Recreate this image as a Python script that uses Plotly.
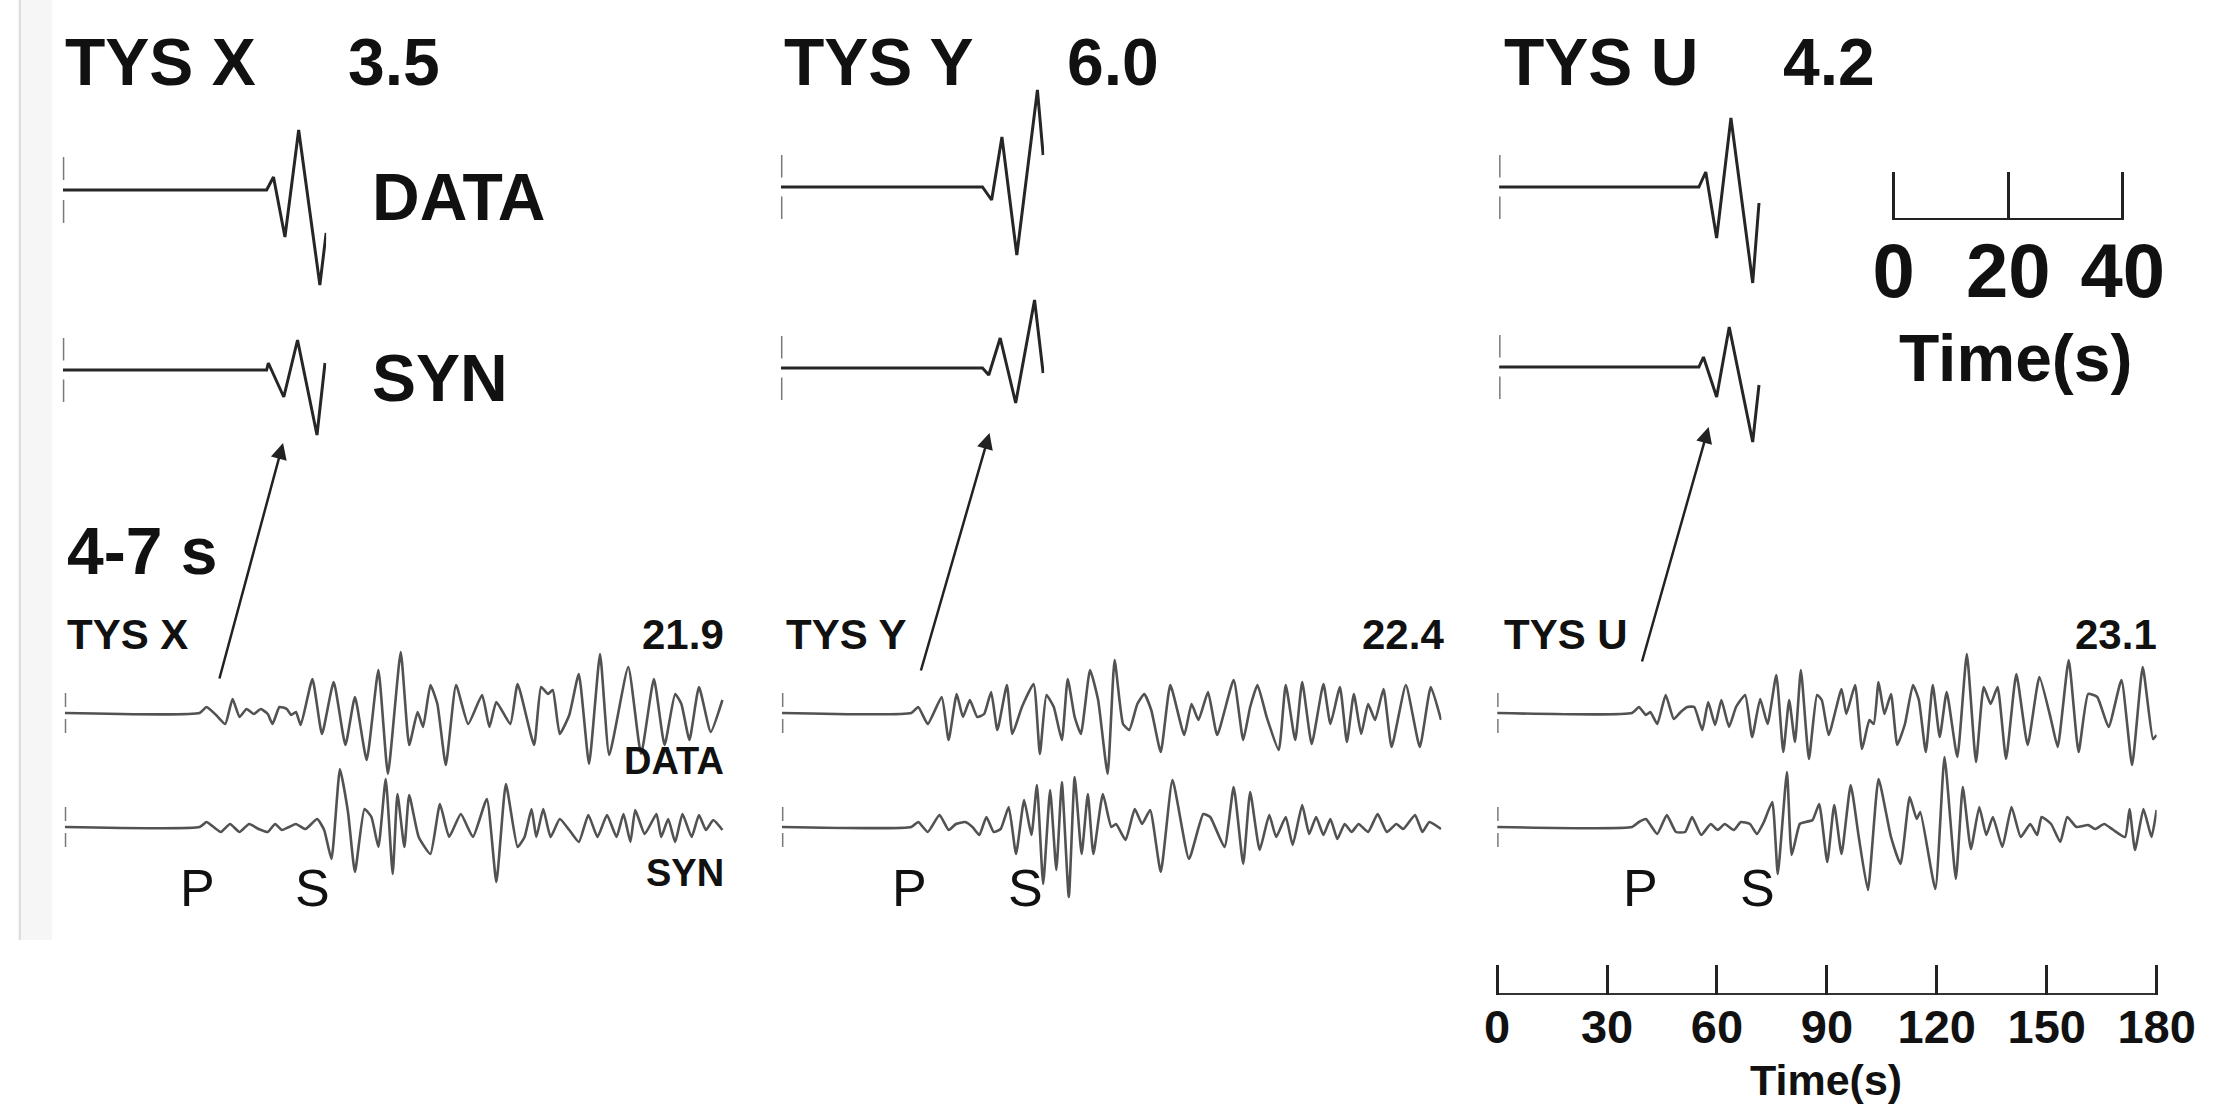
import plotly.graph_objects as go

W, H = 2227, 1106
FONT = "Liberation Sans, Arial, Helvetica, sans-serif"
NARROW = "Liberation Sans Narrow, Arial Narrow, Liberation Sans, Arial, sans-serif"

# ---------------- data ----------------
tx_data_t = [0, 35.6, 36.8, 38.8, 41.2, 44.9, 46.0]
tx_data_a = [0, 0, 13, -47, 60, -95, -43]
tx_syn_t = [0, 35.6, 35.9, 38.6, 41.0, 44.4, 45.8]
tx_syn_a = [0, 0, 7, -27, 30, -65, 7]
ty_data_t = [0, 35.2, 36.8, 38.6, 41.2, 44.8, 45.8]
ty_data_a = [0, 0, -13, 50, -68, 97, 32]
ty_syn_t = [0, 35.2, 36.3, 38.3, 41.0, 44.3, 45.8]
ty_syn_a = [0, 0, -7, 30, -35, 68, -5]
tu_data_t = [0, 34.9, 36.1, 38.0, 40.5, 44.3, 45.4]
tu_data_a = [0, 0, 15, -51, 69, -96, -16]
tu_syn_t = [0, 34.9, 35.7, 38.0, 40.2, 44.3, 45.4]
tu_syn_a = [0, 0, 10, -30, 40, -75, -18]

bx_data_t = [0, 36.8, 38.7, 41.3, 43.8, 45.8, 47.7, 49.6, 51.6, 53.5, 55.4, 56.7, 58.6, 60.6, 61.8, 63.1,
             64.4, 67.6, 70.2, 73.4, 76.6, 79.2, 82.4, 85.6, 88.2, 91.7, 94.0, 96.3, 97.8, 99.8, 101.7,
             104.0, 106.8, 110.1, 113.9, 115.9, 117.8, 121.6, 123.6, 128.1, 130.0, 131.9, 133.2, 135.1,
             137.7, 140.3, 143.1, 146.1, 148.6, 153.8, 157.3, 160.8, 163.7, 166.6, 168.3, 170.5, 173.1,
             176.3, 179.5]
bx_data_a = [0, 0, 6, -2, -11, 14, -4, 4, -1, 4, -1, -11, 6, 4, -2, 1, -12, 34, -21, 31, -32, 16, -47, 43,
             -61, 61, -32, 1, -14, 28, 9, -52, 28, -11, 18, -14, 11, -11, 29, -32, 26, 19, 23, -21, -2, 39,
             -51, 59, -42, 46, -41, 34, -32, 19, 9, -27, 26, -19, 13]
bx_syn_t = [0, 36.8, 38.7, 40.6, 42.6, 45.1, 47.7, 50.3, 52.9, 55.4, 57.4, 59.3, 61.2, 63.1, 65.7, 68.9,
            70.8, 72.8, 75.1, 77.3, 79.2, 81.8, 83.7, 85.6, 87.6, 89.5, 90.8, 92.7, 94.0, 96.6, 99.8, 102.4,
            104.9, 108.1, 111.4, 115.2, 117.8, 120.4, 123.6, 125.5, 127.4, 128.7, 130.6, 132.6, 135.1,
            137.7, 140.3, 142.9, 145.4, 148.0, 150.6, 152.5, 154.4, 155.7, 158.3, 161.5, 162.8, 164.7,
            166.6, 168.6, 171.1, 173.1, 175.0, 177.0, 179.5]
bx_syn_a = [0, 0, 5, 0, -5, 3, -5, 3, -2, -5, 3, -3, 0, 3, -2, 8, -3, -32, 58, 15, -45, 18, 10, -20, 48, -47,
            33, -20, 32, -10, -27, 23, -10, 13, -10, 28, -55, 43, -20, -10, 18, -10, 18, -10, 8, -3, -15, 12,
            -10, 12, -10, 13, -15, 17, -7, 13, -10, 8, -15, 13, -10, 12, -3, 7, -3]

by_data_t = [0, 35.3, 37.2, 39.8, 43.6, 45.5, 47.7, 49.4, 51.3, 53.3, 55.2, 57.1, 58.8, 61.4, 62.9, 65.5,
             68.7, 70.4, 72.2, 74.2, 76.4, 78.0, 79.9, 81.6, 84.1, 86.3, 88.9, 90.8, 93.1, 94.8, 97.0, 98.9,
             100.8, 103.4, 106.0, 109.8, 111.8, 113.7, 116.3, 118.8, 123.3, 125.9, 127.8, 129.8, 132.3,
             135.6, 137.5, 140.1, 142.0, 144.6, 147.8, 149.7, 152.3, 154.2, 156.1, 158.1, 160.0, 161.9,
             164.2, 166.4, 170.3, 174.1, 177.1, 179.9]
by_data_a = [0, 0, 6, -11, 16, -27, 19, -4, 13, -4, -1, 21, -17, 28, -21, 6, 29, -41, 18, 6, -27, 34, -4,
             -21, 43, 13, -61, 53, -11, -17, 9, 19, 3, -39, 28, -22, 9, -7, 21, -22, 33, -27, 6, 28, -4, -37,
             28, -27, 31, -31, 29, -11, 26, -29, 19, -21, 9, -7, 24, -34, 28, -34, 26, -7]
by_syn_t = [0, 35.3, 37.2, 39.8, 43.0, 45.5, 47.5, 50.0, 52.0, 53.9, 55.8, 57.8, 59.7, 61.9, 63.9, 66.1,
            68.1, 69.6, 71.3, 73.2, 74.9, 76.4, 78.3, 79.9, 81.8, 83.5, 85.0, 87.6, 89.9, 91.2, 93.8, 96.3,
            98.3, 100.5, 103.4, 106.6, 111.1, 115.0, 116.9, 120.8, 123.3, 125.9, 127.8, 130.4, 133.0,
            134.9, 137.5, 139.4, 142.0, 143.9, 145.8, 147.8, 149.7, 151.6, 153.6, 155.5, 157.4, 160.0,
            162.6, 165.1, 167.7, 169.6, 172.8, 174.8, 176.7, 179.9]
by_syn_a = [0, 0, 5, -5, 12, -3, 3, 5, 0, -8, 10, -5, -2, 20, -27, 27, -8, 42, -57, 37, -43, 45, -70, 50,
            -27, 33, -27, 33, 0, 3, -13, 18, 3, 17, -45, 47, -32, 13, 10, -20, 40, -37, 35, -23, 12, -10, 10,
            -18, 22, -7, 10, -8, 8, -12, 3, -5, 3, -5, 13, -5, 3, -2, 12, -5, 5, -2]

bu_data_t = [0, 36.8, 38.7, 40.6, 41.8, 43.7, 46.0, 48.2, 50.1, 51.9, 53.8, 56.0, 57.6, 59.5, 61.2, 63.3,
             65.2, 67.7, 69.6, 71.8, 73.8, 76.2, 78.1, 79.7, 81.3, 82.9, 85.1, 87.3, 88.6, 90.5, 94.0, 95.3,
             97.7, 99.6, 101.6, 102.8, 104.1, 105.7, 107.5, 109.2, 111.3, 113.5, 115.1, 117.0, 118.9,
             120.8, 122.7, 125.6, 128.2, 130.7, 132.8, 134.7, 136.6, 138.9, 141.7, 144.8, 148.0, 151.2,
             153.0, 156.0, 158.7, 161.3, 163.8, 166.9, 170.4, 173.3, 176.2, 179.0, 180.0]
bu_data_a = [0, 0, 6, -2, 1, -11, 18, -6, 1, 6, 6, -17, 11, -12, 13, -14, 6, 18, -24, 14, -11, 38, -39, 13,
             -29, 43, -46, 18, 13, -22, 24, -1, 28, -36, -7, -11, 31, -1, 19, -32, -11, 28, 13, -39, 28, -24,
             21, -44, 59, -49, 26, 9, 26, -46, 39, -32, 36, -7, -34, 53, -39, 19, 16, -14, 33, -52, 46, -26,
             -22]
bu_syn_t = [0, 36.8, 38.7, 40.6, 43.7, 46.3, 48.8, 51.3, 53.2, 55.7, 58.3, 60.2, 62.1, 64.6, 66.5, 69.0,
            70.9, 72.8, 75.1, 76.6, 79.1, 80.4, 82.6, 84.2, 86.1, 87.9, 90.1, 92.0, 94.0, 96.5, 98.7, 101.2,
            104.1, 107.5, 110.1, 112.6, 114.5, 115.5, 119.6, 122.1, 125.2, 127.1, 129.3, 131.6, 133.5,
            135.3, 137.9, 140.4, 142.9, 145.5, 147.4, 148.6, 151.2, 153.7, 155.6, 158.1, 161.3, 163.2,
            165.7, 168.2, 171.4, 172.6, 174.1, 176.4, 178.6, 180.0]
bu_syn_a = [0, 0, 5, 8, -7, 12, -5, -5, 10, -8, 3, -3, 3, -3, 5, 3, -7, 5, 25, -47, 55, -28, 3, 5, 7, 23,
            -35, 22, -27, 42, -10, -63, 48, -10, -37, 30, 8, 15, -62, 70, -52, 40, -22, 20, -8, 10, -20, 20,
            -10, 3, -8, 10, 3, -15, 10, 0, 2, -2, 3, -3, -10, 18, -23, 18, -10, 17]

stations = ["TYS X", "TYS Y", "TYS U"]
top_ratio = ["3.5", "6.0", "4.2"]
bottom_ratio = ["21.9", "22.4", "23.1"]
scale_ticks_top = [0, 20, 40]
scale_ticks_bottom = [0, 30, 60, 90, 120, 150, 180]


def px(x):
    return x / W


def py(y):
    return 1 - y / H


TOP_T, TOP_PPS, TOP_HALF = 46.0, 5.875, 110
BOT_T, BOT_PPS, BOT_HALF = 180.0, 3.76, 80

# (t, a, left px, px/s, T, baseline px, half-height, colour, width, shape, marker half)
panels = [
    (tx_data_t, tx_data_a, 46, TOP_PPS, TOP_T, 190, TOP_HALF, "#262626", 3, "linear", 33),
    (tx_syn_t, tx_syn_a, 46, TOP_PPS, TOP_T, 370, TOP_HALF, "#262626", 3, "linear", 32),
    (ty_data_t, ty_data_a, 783, TOP_PPS, TOP_T, 187, TOP_HALF, "#262626", 3, "linear", 32),
    (ty_syn_t, ty_syn_a, 783, TOP_PPS, TOP_T, 368, TOP_HALF, "#262626", 3, "linear", 32),
    (tu_data_t, tu_data_a, 1520, TOP_PPS, TOP_T, 187, TOP_HALF, "#262626", 3, "linear", 32),
    (tu_syn_t, tu_syn_a, 1520, TOP_PPS, TOP_T, 367, TOP_HALF, "#262626", 3, "linear", 32),
    (bx_data_t, bx_data_a, 48, BOT_PPS, BOT_T, 713, BOT_HALF, "#525252", 2.6, "spline", 20),
    (bx_syn_t, bx_syn_a, 48, BOT_PPS, BOT_T, 827, BOT_HALF, "#525252", 2.6, "spline", 20),
    (by_data_t, by_data_a, 784, BOT_PPS, BOT_T, 713, BOT_HALF, "#525252", 2.6, "spline", 20),
    (by_syn_t, by_syn_a, 784, BOT_PPS, BOT_T, 827, BOT_HALF, "#525252", 2.6, "spline", 20),
    (bu_data_t, bu_data_a, 1518, BOT_PPS, BOT_T, 713, BOT_HALF, "#525252", 2.6, "spline", 20),
    (bu_syn_t, bu_syn_a, 1518, BOT_PPS, BOT_T, 827, BOT_HALF, "#525252", 2.6, "spline", 20),
]

fig = go.Figure()
layout = dict(width=W, height=H, margin=dict(l=0, r=0, t=0, b=0), autosize=False,
              paper_bgcolor="white", plot_bgcolor="rgba(0,0,0,0)", showlegend=False)

for i, (t, a, x0, pps, T, base, half, col, lw, shape, th) in enumerate(panels, start=1):
    xa = "x" if i == 1 else f"x{i}"
    ya = "y" if i == 1 else f"y{i}"
    layout["xaxis" if i == 1 else f"xaxis{i}"] = dict(
        domain=[px(x0), px(x0 + pps * T)], range=[0, T], visible=False, anchor=ya, fixedrange=True)
    layout["yaxis" if i == 1 else f"yaxis{i}"] = dict(
        domain=[py(base + half), py(base - half)], range=[-half, half], visible=False, anchor=xa,
        fixedrange=True)
    line = dict(color=col, width=lw, shape=shape)
    if shape == "spline":
        line["smoothing"] = 0.45
    fig.add_trace(go.Scatter(x=t, y=a, xaxis=xa, yaxis=ya, mode="lines", line=line, hoverinfo="skip"))
    g = th * 0.3
    fig.add_trace(go.Scatter(x=[0, 0, None, 0, 0], y=[-th, -g, None, g, th], xaxis=xa, yaxis=ya,
                             mode="lines", line=dict(color="#7a7a7a", width=3), hoverinfo="skip"))

PAD = 3  # px of slack so that end ticks are drawn


def scale_axis(x0, x1, lo, hi, pps):
    p = PAD / pps
    return [px(x0 - PAD), px(x1 + PAD)], [lo - p, hi + p]


n = len(panels) + 1
dom, rng = scale_axis(1925, 2160, 0, 40, TOP_PPS)
layout[f"xaxis{n}"] = dict(domain=dom, range=rng, anchor=f"y{n}",
                           tickvals=scale_ticks_top, ticktext=[str(v) for v in scale_ticks_top],
                           ticks="inside", ticklen=48, tickwidth=3, tickcolor="#222",
                           showline=False, showgrid=False, zeroline=False,
                           tickfont=dict(family=NARROW, size=76, color="#111", weight="bold"),
                           fixedrange=True)
layout[f"yaxis{n}"] = dict(domain=[py(220), py(140)], range=[0, 1], visible=False, anchor=f"x{n}",
                           fixedrange=True)
fig.add_trace(go.Scatter(x=[scale_ticks_top[0], scale_ticks_top[-1]], y=[0, 0], xaxis=f"x{n}",
                         yaxis=f"y{n}", mode="lines", line=dict(color="#222", width=4), hoverinfo="skip"))

m = n + 1
dom, rng = scale_axis(1518, 1518 + BOT_PPS * BOT_T, 0, 180, BOT_PPS)
layout[f"xaxis{m}"] = dict(domain=dom, range=rng, anchor=f"y{m}",
                           tickvals=scale_ticks_bottom, ticktext=[str(v) for v in scale_ticks_bottom],
                           ticks="inside", ticklen=30, tickwidth=3, tickcolor="#222",
                           showline=False, showgrid=False, zeroline=False,
                           tickfont=dict(family=NARROW, size=47, color="#111", weight="bold"),
                           fixedrange=True)
layout[f"yaxis{m}"] = dict(domain=[py(995), py(940)], range=[0, 1], visible=False, anchor=f"x{m}",
                           fixedrange=True)
fig.add_trace(go.Scatter(x=[scale_ticks_bottom[0], scale_ticks_bottom[-1]], y=[0, 0], xaxis=f"x{m}",
                         yaxis=f"y{m}", mode="lines", line=dict(color="#333", width=4), hoverinfo="skip"))


def txt(text, x, y, size, xanchor="left", bold=True, family=FONT):
    return dict(text=text, x=px(x), y=py(y), xref="paper", yref="paper", xanchor=xanchor,
                yanchor="middle", showarrow=False,
                font=dict(family=family, size=size, color="#111", weight="bold" if bold else "normal"))


ann = []
for name, ratio, xn, xr in zip(stations, top_ratio, [46, 784, 1523], [337, 1074, 1809]):
    ann.append(txt(name, xn, 62, 66))
    ann.append(txt(ratio, xr, 62, 66))
ann.append(txt("DATA", 361, 197, 66))
ann.append(txt("SYN", 361, 378, 66))
ann.append(txt("Time(s)", 2050, 358, 66, xanchor="center"))
ann.append(txt("4-7 s", 48, 551, 66))
for name, ratio, xn, xr in zip(stations, bottom_ratio, [48, 786, 1523], [727, 1465, 2197]):
    ann.append(txt(name, xn, 634, 42))
    ann.append(txt(ratio, xr, 634, 42, xanchor="right"))
ann.append(txt("DATA", 727, 761, 38, xanchor="right"))
ann.append(txt("SYN", 727, 873, 38, xanchor="right"))
for xp, xs in [(184, 302), (915, 1034), (1665, 1785)]:
    ann.append(txt("P", xp, 888, 52, xanchor="center", bold=False))
    ann.append(txt("S", xs, 888, 52, xanchor="center", bold=False))
ann.append(txt("Time(s)", 1856, 1080, 43, xanchor="center"))
for (hx, hy), (tx, ty) in [((272, 443), (208, 680)), ((997, 433), (928, 672)), ((1735, 427), (1668, 663))]:
    ann.append(dict(text="", x=px(hx), y=py(hy), xref="paper", yref="paper", showarrow=True,
                    ax=tx - hx, ay=ty - hy, axref="pixel", ayref="pixel", arrowhead=2, arrowsize=1.3,
                    arrowwidth=2.5, arrowcolor="#222", standoff=0))
layout["annotations"] = ann
layout["shapes"] = [
    dict(type="rect", xref="paper", yref="paper", x0=0, x1=px(35), y0=py(940), y1=1,
         fillcolor="#f6f6f6", line=dict(width=0), layer="below"),
    dict(type="line", xref="paper", yref="paper", x0=px(2), x1=px(2), y0=py(940), y1=1,
         line=dict(color="#dddddd", width=2), layer="below"),
]

fig.update_layout(**layout)
fig.write_html("out.html", config={"displayModeBar": False},
               post_script="document.body.style.margin='0';document.body.style.overflow='hidden';")
